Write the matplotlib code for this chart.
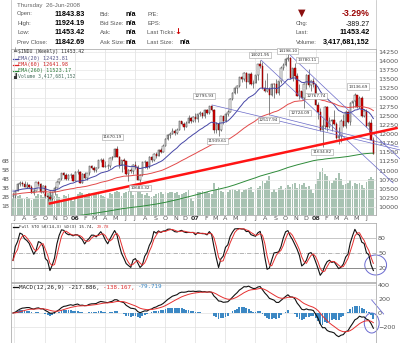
import numpy as np
import pandas as pd
import matplotlib
matplotlib.use("Agg")
import matplotlib.pyplot as plt
import matplotlib.dates as mdates
import matplotlib.transforms as mtransforms
from matplotlib.lines import Line2D
from matplotlib.patches import Ellipse

W, H = 400, 343

# weekly $INDU bars, week starting 2005-06-27 ... 2008-06-23
opens = [
    # 2005
    10298, 10303, 10449, 10640, 10651, 10641, 10559, 10600, 10559, 10397, 10447, 10679, 10641, 10420,
    10569, 10292, 10287, 10215, 10403, 10530, 10686, 10766, 10931, 10878, 10778, 10875, 10883,
    # 2006
    10718, 10959, 10960, 10667, 10907, 10794, 10919, 11115, 11061, 11022, 11076, 11279, 11280, 11109,
    11120, 11137, 11347, 11367, 11577, 11380, 11144, 11278, 11247, 10891, 11015, 10989, 11150, 11090,
    10739, 10868, 11220, 11240, 11088, 11381, 11284, 11464, 11393, 11560, 11508, 11679, 11867, 11961,
    12002, 12090, 12032, 12108, 12343, 12280, 12194, 12307, 12445, 12343,
    # 2007
    12463, 12398, 12556, 12565, 12487, 12653, 12580, 12767, 12647, 12114, 12276, 12110, 12481, 12354,
    12560, 12612, 12962, 13120, 13264, 13326, 13556, 13507, 13668, 13424, 13639, 13360, 13408, 13611,
    13907, 13851, 13265, 13182, 13240, 13079, 13379, 13358, 13114, 13442, 13820, 13896, 14066, 14093,
    13522, 13807, 13595, 13043, 13177, 12980, 13372, 13625, 13340, 13451,
    # 2008
    13366, 12800, 12607, 12099, 12207, 12743, 12183, 12348, 12381, 12266, 11894, 11951, 12362, 12216,
    12610, 12325, 12850, 12891, 13058, 12745, 12986, 12480, 12638, 12209, 12307, 11844,
]
highs = [
    10420, 10470, 10670, 10720, 10720, 10720, 10690, 10640, 10600, 10480, 10690, 10720, 10660, 10590,
    10600, 10320, 10450, 10420, 10580, 10700, 10790, 10940, 10950, 10920, 10900, 10920, 10900,
    10980, 11045, 10990, 10920, 10960, 10940, 11130, 11140, 11120, 11090, 11290, 11330, 11340, 11270,
    11170, 11380, 11410, 11620, 11670, 11400, 11290, 11330, 11260, 11030, 11080, 11190, 11250, 11140,
    10900, 11230, 11290, 11250, 11400, 11400, 11480, 11500, 11580, 11620, 11720, 11880, 11990, 12050,
    12170, 12140, 12170, 12360, 12350, 12340, 12350, 12510, 12470, 12480,
    12580, 12560, 12630, 12600, 12680, 12690, 12780, 12796, 12690, 12330, 12330, 12500, 12500, 12570,
    12650, 12980, 13140, 13290, 13340, 13560, 13590, 13690, 13690, 13660, 13710, 13470, 13630, 13920,
    14022, 13960, 13470, 13660, 13300, 13390, 13400, 13500, 13450, 13850, 13940, 14080, 14198, 14100,
    13820, 13950, 13670, 13360, 13180, 13400, 13650, 13780, 13480, 13530,
    13370, 12870, 12720, 12420, 12768, 12760, 12460, 12420, 12660, 12340, 12200, 12400, 12550, 12660,
    12640, 12870, 12900, 13137, 13060, 13030, 13030, 12690, 12680, 12350, 12420, 11924,
]
lows = [
    10240, 10250, 10440, 10580, 10570, 10540, 10510, 10520, 10380, 10340, 10440, 10570, 10380, 10380,
    10240, 10156, 10180, 10200, 10340, 10510, 10640, 10750, 10780, 10730, 10740, 10800, 10700,
    10700, 10900, 10650, 10660, 10760, 10730, 10880, 11030, 10960, 10960, 11070, 11230, 11100, 11100,
    11050, 11070, 11280, 11360, 11370, 11080, 10960, 11030, 10880, 10700, 10940, 10910, 11050, 10730,
    10683, 10850, 11080, 11050, 11080, 11230, 11270, 11350, 11390, 11470, 11500, 11660, 11840, 11900,
    11990, 11970, 11990, 12100, 12250, 12120, 12180, 12300, 12310, 12330,
    12330, 12340, 12500, 12440, 12450, 12560, 12540, 12620, 12030, 12040, 11940, 12080, 12270, 12330,
    12490, 12600, 12940, 13100, 13120, 13280, 13420, 13460, 13270, 13370, 13350, 13260, 13390, 13480,
    13820, 13240, 13150, 13140, 12518, 13050, 12990, 13100, 13080, 13400, 13760, 13850, 13990, 13510,
    13460, 13500, 13040, 12960, 12960, 12724, 13230, 13290, 13180, 13300,
    12790, 12420, 12090, 11635, 12130, 12070, 12160, 12080, 12240, 11860, 11730, 11790, 12190, 12170,
    12300, 12260, 12700, 12740, 12720, 12700, 12460, 12460, 12200, 12050, 11840, 11453,
]
closes = [
    10303, 10449, 10640, 10651, 10641, 10559, 10600, 10559, 10397, 10447, 10679, 10641, 10420, 10569,
    10292, 10287, 10215, 10403, 10530, 10686, 10766, 10931, 10878, 10778, 10875, 10883, 10718,
    10959, 10960, 10667, 10907, 10794, 10919, 11115, 11061, 11022, 11076, 11279, 11280, 11109, 11120,
    11137, 11347, 11367, 11577, 11380, 11144, 11278, 11247, 10891, 11015, 10989, 11150, 11090, 10739,
    10868, 11220, 11240, 11088, 11381, 11284, 11464, 11393, 11560, 11508, 11679, 11867, 11961, 12002,
    12090, 12032, 12108, 12343, 12280, 12194, 12307, 12445, 12343, 12463,
    12398, 12556, 12565, 12487, 12653, 12580, 12767, 12647, 12114, 12276, 12110, 12481, 12354, 12560,
    12612, 12962, 13120, 13264, 13326, 13556, 13507, 13668, 13424, 13639, 13360, 13408, 13611, 13907,
    13851, 13265, 13182, 13240, 13079, 13379, 13358, 13114, 13442, 13820, 13896, 14066, 14093, 13522,
    13807, 13595, 13043, 13177, 12980, 13372, 13625, 13340, 13451, 13366,
    12800, 12607, 12099, 12207, 12743, 12183, 12348, 12381, 12266, 11894, 11951, 12362, 12216, 12610,
    12325, 12850, 12891, 13058, 12745, 12986, 12480, 12638, 12209, 12307, 11843, 11453,
]
# weekly volume, billions
volumes = [
    1.9, 2.0, 2.1, 2.2, 1.9, 1.8, 2.0, 1.9, 1.7, 1.8, 2.1, 2.3, 2.2, 2.0, 2.3, 2.4, 2.5, 2.2, 2.1, 2.3,
    2.0, 1.6, 2.2, 2.1, 2.3, 1.7, 1.5,
    2.0, 2.3, 2.5, 2.4, 2.2, 2.3, 2.4, 2.1, 2.2, 2.3, 2.6, 2.2, 2.1, 2.0, 1.9, 2.4, 2.3, 2.5, 2.7, 2.6,
    2.1, 2.4, 2.6, 2.7, 2.8, 2.2, 2.3, 2.5, 2.6, 2.3, 2.2, 2.4, 2.1, 2.0, 2.1, 2.3, 2.4, 2.5, 2.3, 2.6,
    2.4, 2.5, 2.6, 2.4, 2.5, 2.2, 2.3, 2.4, 2.6, 2.8, 1.9, 1.6,
    2.4, 2.5, 2.6, 2.7, 2.6, 2.5, 2.4, 2.3, 3.5, 2.9, 3.1, 2.7, 2.5, 2.2, 2.5, 2.8, 2.9, 2.8, 2.7, 2.9,
    2.5, 2.8, 2.9, 3.0, 3.1, 2.6, 2.8, 3.0, 3.2, 3.8, 3.6, 3.9, 4.3, 2.6, 2.9, 2.6, 3.0, 3.2, 2.8, 3.0,
    3.3, 3.1, 3.4, 3.6, 3.0, 3.4, 3.3, 3.5, 3.1, 3.2, 2.9, 2.4,
    3.4, 4.0, 4.8, 5.2, 4.5, 4.3, 3.8, 3.5, 3.9, 4.1, 4.6, 4.0, 3.3, 3.4, 3.6, 3.9, 3.2, 3.5, 3.4, 3.6,
    3.3, 3.0, 3.7, 4.0, 4.2, 4.0,
]
first_week = "2005-06-27"

# starting values of the moving averages (read at the left edge)
ema20_start, ema60_start, ema260_start = 10450, 10350, 9550

# labelled extremes
ann_dates = ["2006-05-10", "2006-07-17", "2007-02-20", "2007-03-14", "2007-07-19", "2007-10-11",
             "2007-12-11", "2007-08-16", "2007-11-26", "2008-02-01", "2008-01-22", "2008-05-02"]
ann_values = [11670.19, 10683.32, 12795.93, 11939.61, 14021.95, 14198.10,
              13780.11, 12517.94, 12724.09, 12767.74, 11634.82, 13136.69]
ann_offsets = [(-5, 9), (0, -6), (-8, 9), (-2, -5), (-1, 5), (-1, 3),
               (-2, 9), (-2, -5), (-4, -5), (-10, 10), (-1, -5), (2, 6)]

# drawn trend lines (start date, start price, end date, end price)
red_trend = ("2005-10-13", 10090, "2008-09-05", 12170)
blue_trends = [
    ("2007-07-19", 14022, "2008-08-22", 10658),
    ("2007-10-11", 14198, "2008-09-12", 11315),
    ("2007-02-20", 12796, "2008-09-12", 11562),
    ("2007-08-16", 12518, "2008-09-06", 11644),
]


def ema(values, span, seed):
    a = 2.0 / (span + 1)
    out, prev = [], seed
    for v in values:
        prev = prev + a * (v - prev)
        out.append(prev)
    return np.array(out)


o = np.array(opens, float)
hi = np.array(highs, float)
lo = np.array(lows, float)
c = np.array(closes, float)
weeks = pd.date_range(first_week, periods=len(c), freq="7D")
xd = mdates.date2num(weeks)

ema20 = ema(c, 20, ema20_start)
ema60 = ema(c, 60, ema60_start)
ema260 = ema(c, 260, ema260_start)

macd = ema(c, 12, c[0]) - ema(c, 26, c[0])
signal = ema(macd, 9, 0.0)
hist = macd - signal

hh = pd.Series(hi).rolling(14, min_periods=1).max()
ll = pd.Series(lo).rolling(14, min_periods=1).min()
fastk = 100 * (pd.Series(c) - ll) / (hh - ll)
fullk = fastk.rolling(3, min_periods=1).mean()
fulld = fullk.rolling(3, min_periods=1).mean()

fig = plt.figure(figsize=(W / 100, H / 100), dpi=100)
fig.patch.set_facecolor("white")


def px_axes(x0, y0, x1, y1):
    return fig.add_axes([x0 / W, 1 - y1 / H, (x1 - x0) / W, (y1 - y0) / H])


ax = px_axes(11, 49, 376, 215)
ax_sto = px_axes(11, 223, 376, 282)
ax_macd = px_axes(11, 283, 376, 343)

xmin = mdates.date2num(pd.Timestamp("2005-06-21"))
xmax = mdates.date2num(pd.Timestamp("2008-07-01"))
quarters = mdates.date2num(pd.date_range("2005-07-01", "2008-06-30", freq="QS-JAN"))

# volume shares the main panel, drawn underneath it
axv = ax.twinx()

for a in (ax, ax_sto, ax_macd):
    a.set_xlim(xmin, xmax)
    a.set_xticks(quarters)
    a.tick_params(axis="x", length=0, labelbottom=False)
    a.grid(True, axis="x", color="#dedede", lw=0.5)
    a.yaxis.set_ticks_position("right")
    a.tick_params(axis="y", which="both", length=0, pad=1.5, labelsize=4.6,
                  labelcolor="#555555", left=False, labelleft=False, labelright=True)
    for s in a.spines.values():
        s.set_color("#b0b0b0")
        s.set_linewidth(0.6)
    a.set_axisbelow(True)
ax_macd.spines["bottom"].set_visible(False)

# ---- main panel ----
ax.set_ylim(9781, 14329)
ax.set_yticks(np.arange(10000, 14251, 250))
ax.grid(True, axis="y", color="#e6e6e6", lw=0.5)

axv.set_xlim(xmin, xmax)
axv.set_ylim(0, 18.4)
axv.yaxis.set_ticks_position("left")
axv.set_yticks([1, 2, 3, 4, 5, 6])
axv.set_yticklabels(["1B", "2B", "3B", "4B", "5B", "6B"])
axv.tick_params(axis="y", length=0, pad=1.2, labelsize=4.3, labelcolor="#555555",
                labelleft=True, labelright=False, right=False)
for s in axv.spines.values():
    s.set_visible(False)
axv.bar(xd, volumes, width=5.5, color="#a8c2b2", linewidth=0)
axv.set_zorder(1)
ax.set_zorder(2)
ax.patch.set_visible(False)

down = c < o
body_lo = np.minimum(o, c)
body_h = np.maximum(np.abs(c - o), 10)
ax.vlines(xd, lo, hi, color="#555555", lw=0.5, zorder=3)
ax.bar(xd, body_h, bottom=body_lo, width=4.2,
       color=np.where(down, "#d40000", "white"),
       edgecolor=np.where(down, "#7a0000", "#333333"), linewidth=0.35, zorder=4)

ax.plot(xd, ema20, color="#4646a6", lw=0.7, zorder=5)
ax.plot(xd, ema60, color="#e24a4a", lw=0.7, zorder=5)
ax.plot(xd, ema260, color="#2e8b3a", lw=0.7, zorder=5)

for d0, p0, d1, p1 in blue_trends:
    ax.plot(mdates.date2num(pd.to_datetime([d0, d1])), [p0, p1], color="#6a6ac8",
            lw=0.5, clip_on=False, zorder=6)
d0, p0, d1, p1 = red_trend
ax.plot(mdates.date2num(pd.to_datetime([d0, d1])), [p0, p1], color="#ff1414",
        lw=1.8, clip_on=False, solid_capstyle="butt", zorder=7)

for d, v, (dx, dy) in zip(ann_dates, ann_values, ann_offsets):
    ax.annotate(f"{v:.2f}", (mdates.date2num(pd.Timestamp(d)), v), xytext=(dx, dy),
                textcoords="offset pixels", ha="center", va="center", fontsize=3,
                color="#333333", annotation_clip=False, zorder=8,
                bbox=dict(boxstyle="square,pad=0.25", fc="white", ec="#a0a0a0", lw=0.4))

# month labels
months = pd.date_range("2005-07-01", "2008-06-01", freq="MS")
trans = mtransforms.blended_transform_factory(ax.transData, ax.transAxes)
for m in months:
    if m.month == 1:
        ax.text(mdates.date2num(m), -0.024, m.strftime("%y"), transform=trans, ha="center",
                va="center", fontsize=4.6, fontweight="bold", color="#333333")
    else:
        ax.text(mdates.date2num(m), -0.024, m.strftime("%b")[0], transform=trans, ha="center",
                va="center", fontsize=4.6, color="#555555")

# ---- stochastic ----
ax_sto.set_ylim(-8, 110)
ax_sto.set_yticks([20, 50, 80])
ax_sto.axhline(80, color="#bdbdbd", lw=0.6)
ax_sto.axhline(50, color="#999999", lw=0.5, ls="-.")
ax_sto.axhline(20, color="#777777", lw=0.6)
ax_sto.plot(xd, fullk, color="#111111", lw=0.8)
ax_sto.plot(xd, fulld, color="#e53030", lw=0.7)
ax_sto.add_patch(Ellipse((mdates.date2num(pd.Timestamp("2008-06-30")), 26), 66, 40,
                         fill=False, ec="#6a6ad0", lw=0.7, clip_on=False))

# ---- MACD ----
ax_macd.set_ylim(-429, 429)
ax_macd.set_yticks([-200, 0, 200, 400])
ax_macd.grid(True, axis="y", color="#e2e2e2", lw=0.5)
ax_macd.bar(xd, hist, width=5.5, color="#3c88c4", linewidth=0, zorder=2)
ax_macd.plot(xd, macd, color="#111111", lw=0.8, zorder=3)
ax_macd.plot(xd, signal, color="#e53030", lw=0.7, zorder=3)
ax_macd.add_patch(Ellipse((mdates.date2num(pd.Timestamp("2008-06-18")), -143), 45, 286,
                          fill=False, ec="#6a6ad0", lw=0.7, clip_on=False))
ax_macd.plot(mdates.date2num(pd.to_datetime(["2008-06-18", "2008-07-24"])), [186, -14],
             color="#6a6ad0", lw=0.6, clip_on=False)

# ---- header ----
SANS = "Liberation Sans"


def ftext(x, y, s, **kw):
    kw.setdefault("family", SANS)
    kw.setdefault("va", "center")
    fig.text(x / W, 1 - y / H, s, **kw)


lab = dict(fontsize=4.2, color="#555555")
val = dict(fontsize=5.2, color="#000000", fontweight="bold")
ftext(17, 5, "Thursday  26-Jun-2008", fontsize=4.4, color="#666666")
for y, l, v in [(14, "Open:", "11843.83"), (23.5, "High:", "11924.19"),
                (33, "Low:", "11453.42"), (42, "Prev Close:", "11842.69")]:
    ftext(17, y, l, **lab)
    ftext(85, y, v, ha="right", **val)
for y, l in [(14, "Bid:"), (23.5, "Bid Size:"), (33, "Ask:"), (42, "Ask Size:")]:
    ftext(100, y, l, **lab)
    ftext(126, y, "n/a", **val)
for y, l in [(14, "P/E:"), (23.5, "EPS:"), (33, "Last Ticks:"), (42, "Last Size:")]:
    ftext(147, y, l, **lab)
ftext(177.5, 32, "\u2193", fontsize=6, color="#cc0000", fontweight="bold", ha="center",
      family="DejaVu Sans")
ftext(180, 42, "n/a", **val)

ftext(302, 12.5, "\u25bc", fontsize=7, color="#8b1010", ha="center", family="DejaVu Sans")
ftext(370, 14, "-3.29%", fontsize=6.3, color="#990000", fontweight="bold", ha="right")
ftext(296, 24, "Chg:", **lab)
ftext(370, 24, "-389.27", fontsize=5, color="#111111", ha="right")
ftext(296, 33, "Last:", **lab)
ftext(370, 33, "11453.42", ha="right", **val)
ftext(296, 42, "Volume:", **lab)
ftext(370, 42, "3,417,681,152", ha="right", **val)

for xp in (11, 376):
    fig.add_artist(Line2D([xp / W, xp / W], [1 - 215 / H, 1], color="#c8c8c8", lw=0.6))

# ---- panel legends (monospace) ----
MONO = "DejaVu Sans Mono"


def mono_parts(x, y, parts, fs):
    cw = 0.602 * fs * 100 / 72
    for s, col in parts:
        ftext(x, y, s, fontsize=fs, color=col, family=MONO)
        x += cw * len(s)


def swatch(y, col, lw=0.9):
    fig.add_artist(Line2D([13 / W, 17.5 / W], [1 - y / H] * 2, color=col, lw=lw))


ftext(14.5, 52, "\u2567", fontsize=4, color="#333333", family=MONO, ha="center")
mono_parts(18, 52, [("$INDU (Weekly) 11453.42", "#333333")], 3.4)
swatch(58.5, "#4646a6")
mono_parts(18, 58.5, [("EMA(20) 12423.81", "#55558a")], 3.7)
swatch(64.5, "#e02020")
mono_parts(18, 64.5, [("EMA(60) 12641.98", "#cc2222")], 3.7)
swatch(70.5, "#2e8b3a")
mono_parts(18, 70.5, [("EMA(260) 11523.17", "#2e7a3a")], 3.7)
ftext(14.5, 76.5, "\u259f", fontsize=3.6, color="#333333", family=MONO, ha="center")
mono_parts(18, 76.5, [("Volume 3,417,681,152", "#4a7060")], 3.4)

swatch(226.5, "#111111")
mono_parts(19, 226.5, [("Full STO %K(14,3) %D(3) 15.74, ", "#222222"), ("29.78", "#e03030")], 3.0)
swatch(287, "#111111")
mono_parts(19, 287, [("MACD(12,26,9) -217.886, ", "#222222"), ("-138.167, ", "#e03030"),
                     ("-79.719", "#3c88c4")], 4.2)

fig.savefig("out.png", dpi=100, facecolor="white")
